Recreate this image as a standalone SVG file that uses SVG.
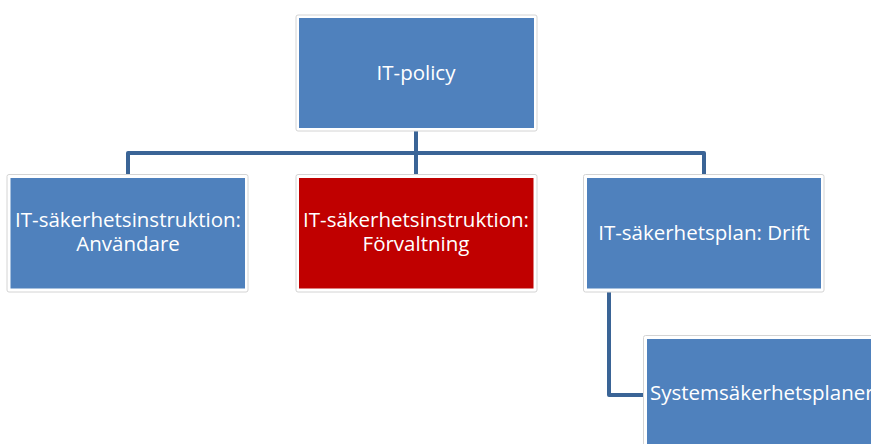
<svg xmlns="http://www.w3.org/2000/svg" width="871" height="444" viewBox="0 0 871 444">
  <style>
    .frame { fill: #ffffff; stroke: #d4d4d4; stroke-width: 1; }
    .box { fill: #4f81bd; }
    .box.red { fill: #c00000; }
    .label { font-family: "Open Sans", "Liberation Sans", sans-serif; font-size: 20.5px; fill: #ffffff; text-anchor: middle; }
    .conn { fill: none; stroke: #3a6496; stroke-width: 4; stroke-linejoin: round; }
  </style>
  <rect width="871" height="444" fill="#ffffff"/>

  <g id="connectors">
    <path class="conn" d="M416 130 V153 M128 176 V153 H704 V176 M416 153 V176"/>
    <path class="conn" d="M609 292 V395 H644"/>
  </g>

  <g id="it-policy">
    <rect class="frame" x="296" y="15" width="241" height="116" rx="2"/>
    <rect class="box" x="299" y="18" width="235" height="110"/>
    <text class="label" x="416" y="80">IT-policy</text>
  </g>

  <g id="instruktion-anvandare">
    <rect class="frame" x="7" y="174.5" width="241" height="117.5" rx="2"/>
    <rect class="box" x="10.5" y="178" width="234.5" height="110.5"/>
    <text class="label" x="128" y="227">IT-säkerhetsinstruktion:</text>
    <text class="label" x="128" y="251">Användare</text>
  </g>

  <g id="instruktion-forvaltning">
    <rect class="frame" x="296" y="174.5" width="241" height="117.5" rx="2"/>
    <rect class="box red" x="299" y="178" width="234.5" height="110.5"/>
    <text class="label" x="416" y="227">IT-säkerhetsinstruktion:</text>
    <text class="label" x="416" y="251">Förvaltning</text>
  </g>

  <g id="plan-drift">
    <rect class="frame" x="583.5" y="174.5" width="240.5" height="117.5" rx="2"/>
    <rect class="box" x="587" y="178" width="234" height="110.5"/>
    <text class="label" x="704" y="240">IT-säkerhetsplan: Drift</text>
  </g>

  <g id="systemsakerhetsplaner">
    <rect class="frame" x="643.5" y="335.5" width="240" height="120" rx="2"/>
    <rect class="box" x="647" y="339" width="234" height="115"/>
    <text class="label" x="650" y="400" style="text-anchor: start">Systemsäkerhetsplaner</text>
  </g>
</svg>
